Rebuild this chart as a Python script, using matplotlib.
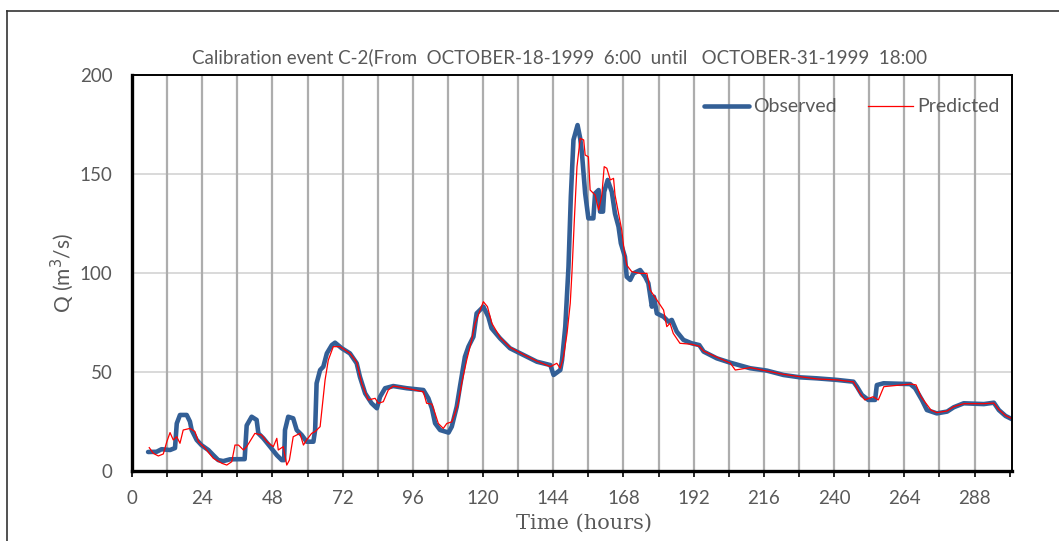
import matplotlib
matplotlib.use("Agg")
import matplotlib.pyplot as plt
from matplotlib.lines import Line2D
from matplotlib.ticker import MultipleLocator

# ---------------- data ----------------
title = "Calibration event C-2(From  OCTOBER-18-1999  6:00  until   OCTOBER-31-1999  18:00"
x_label = "Time (hours)"
y_label = "Q (m$^3$/s)"

t_obs = [5.5, 8.4, 10.1, 13.0, 14.7, 15.3, 16.4, 18.7, 19.8, 20.4, 22.1, 23.8, 26.1, 27.8,
         29.5, 31.2, 33.5, 36.9, 38.5, 39.2, 40.9, 42.6, 43.2, 44.9, 47.2, 49.5, 51.2, 52.0,
         52.3, 53.4, 55.1, 56.3, 58.0, 59.7, 62.0, 62.6, 63.1, 64.3, 65.4, 66.6, 68.3, 69.4,
         71.7, 74.5, 76.8, 77.9, 79.7, 81.9, 83.7, 84.8, 86.5, 89.3, 93.9, 99.6, 101.3, 102.5,
         103.6, 105.3, 108.2, 109.3, 111.0, 112.1, 113.8, 115.0, 116.7, 117.8, 120.1, 121.8,
         122.9, 125.8, 129.2, 133.8, 138.4, 143.0, 144.1, 146.4, 147.0, 148.1, 149.2, 150.0,
         150.9, 152.3, 153.2, 153.8, 154.9, 156.0, 157.7, 158.3, 159.5, 160.0, 161.0, 161.4,
         162.6, 164.0, 165.1, 166.3, 167.1, 168.5, 169.1, 170.3, 171.4, 173.7, 175.4, 176.5,
         177.7, 178.4, 179.4, 181.7, 183.4, 184.5, 186.2, 188.5, 191.3, 193.9, 195.4, 199.9,
         204.5, 211.3, 217.0, 222.7, 228.4, 234.1, 241.0, 246.6, 247.8, 249.5, 251.7, 254.0,
         254.6, 256.9, 266.0, 267.7, 270.0, 271.7, 275.1, 278.6, 280.9, 284.3, 291.2, 294.6,
         296.3, 298.6, 300.9]
q_obs = [9.6, 9.7, 11.0, 10.6, 11.6, 24.0, 28.3, 28.3, 25.0, 20.7, 15.7, 13.0, 10.6, 8.0,
         5.5, 5.0, 5.9, 6.0, 6.0, 23.0, 27.4, 25.8, 19.0, 16.5, 12.3, 8.0, 5.5, 5.5,
         20.7, 27.4, 26.6, 20.7, 18.2, 14.8, 14.8, 20.7, 44.3, 51.0, 52.7, 59.4, 63.6, 64.8,
         62.0, 59.4, 54.4, 47.6, 39.2, 34.2, 31.7, 37.5, 41.8, 42.9, 41.8, 40.9, 36.7, 31.7,
         24.1, 20.7, 19.4, 22.4, 32.5, 42.6, 57.7, 62.8, 67.8, 79.6, 83.0, 77.9,
         72.1, 67.0, 62.0, 58.6, 55.2, 53.5, 48.5, 51.0, 56.0, 72.9, 103.0, 138.5,
         167.2, 174.7, 168.0, 160.5, 140.2, 127.6, 127.6, 140.2, 141.9, 131.0, 131.0, 141.0,
         147.0, 141.0, 130.0, 123.4, 115.0, 108.2, 98.1, 96.5, 99.8, 101.5, 98.1, 94.8,
         83.0, 88.0, 79.6, 77.9, 75.4, 76.3, 70.4, 66.2, 64.5, 63.6, 60.3, 56.9,
         54.7, 51.9, 50.7, 48.5, 47.3, 46.8, 46.0, 45.1, 42.6, 38.4, 35.9, 35.9,
         43.4, 44.3, 43.9, 41.8, 35.9, 30.8, 29.1, 30.0, 32.2, 34.2, 33.8, 34.5,
         30.8, 27.8, 26.1]

t_pred = [5.9, 7.3, 9.0, 10.7, 11.9, 13.0, 14.1, 15.3, 16.4, 17.5, 19.8, 21.5, 22.7, 25.0,
          27.8, 30.7, 32.4, 34.1, 35.2, 36.4, 38.1, 39.2, 42.0, 44.3, 46.1, 48.3, 49.5, 50.0,
          51.7, 52.9, 53.8, 55.1, 57.4, 58.6, 59.7, 61.4, 62.6, 64.3, 66.0, 67.1, 68.8, 71.1,
          74.5, 76.8, 78.5, 80.8, 83.1, 84.2, 85.9, 87.6, 89.3, 93.9, 99.6, 100.7, 102.5, 103.6,
          104.7, 106.4, 107.6, 109.3, 110.4, 111.5, 112.7, 114.4, 116.1, 117.3, 119.0, 120.1,
          121.5, 123.0, 125.8, 129.2, 133.8, 138.4, 143.0, 145.2, 146.4, 147.5, 148.7, 149.8,
          150.4, 151.2, 152.1, 153.2, 154.4, 154.9, 156.0, 156.6, 158.3, 159.5, 160.6, 161.4,
          162.3, 163.5, 164.6, 165.1, 166.3, 167.4, 168.2, 169.1, 170.8, 173.7, 176.0, 177.1,
          179.4, 181.7, 182.8, 183.9, 185.0, 187.3, 191.3, 193.9, 195.4, 199.9, 204.5, 206.2,
          211.3, 217.0, 222.7, 228.4, 234.1, 241.0, 246.6, 248.5, 250.5, 253.3, 255.1, 257.0,
          266.0, 268.0, 269.7, 273.1, 275.1, 278.6, 280.9, 284.3, 291.2, 294.6, 296.3, 298.6,
          300.9]
q_pred = [11.8, 8.9, 7.6, 8.6, 14.8, 19.4, 15.7, 17.3, 14.0, 20.7, 21.5, 19.9, 14.8, 11.5,
          6.4, 3.9, 3.0, 4.7, 13.1, 13.1, 10.6, 12.3, 19.0, 18.2, 14.8, 12.3, 16.5, 10.6,
          12.3, 3.0, 5.5, 17.3, 19.0, 13.1, 15.7, 19.0, 19.9, 22.4, 46.0, 56.0, 62.8, 62.8,
          59.4, 55.0, 44.3, 35.9, 36.7, 34.2, 35.0, 40.9, 42.9, 41.8, 40.0, 34.2, 33.8, 29.1,
          24.0, 21.5, 24.0, 24.8, 29.1, 34.2, 44.3, 56.0, 66.2, 74.6, 81.3, 85.5,
          83.0, 74.6, 67.5, 62.5, 58.8, 55.5, 52.7, 54.4, 51.9, 57.7, 69.5, 84.7,
          100.7, 126.8, 153.7, 168.0, 167.2, 159.6, 158.7, 141.9, 139.4, 131.8, 139.4, 153.7,
          152.9, 147.0, 147.8, 139.4, 130.1, 121.7, 111.6, 104.0, 100.7, 99.8, 99.8, 91.4,
          86.4, 81.3, 72.9, 74.6, 69.5, 64.5, 64.0, 63.0, 60.5, 57.5, 54.5, 51.0,
          52.2, 50.5, 48.8, 47.6, 46.5, 46.0, 45.0, 40.0, 35.9, 37.5, 35.9, 42.6,
          43.9, 43.5, 37.5, 30.8, 29.5, 30.3, 32.5, 34.0, 34.0, 34.3, 31.0, 28.0,
          26.3]

x_major = list(range(0, 289, 24))
y_major = [0, 50, 100, 150, 200]

# ---------------- figure ----------------
fig = plt.figure(figsize=(10.59, 5.41), dpi=100)
ax = fig.add_axes([132 / 1059, 70 / 541, 880 / 1059, 396 / 541])

tick_color = "#595959"
sans = ["Lato", "DejaVu Sans"]

ax.plot(t_obs, q_obs, color="#335F96", lw=3.3, solid_joinstyle="round",
        solid_capstyle="round", label="Observed", zorder=3)
ax.plot(t_pred, q_pred, color="#FF0000", lw=0.9, label="Predicted", zorder=4)

ax.set_xlim(0, 300.8)
ax.set_ylim(0, 200)
ax.set_xticks(x_major)
ax.xaxis.set_minor_locator(MultipleLocator(12))
ax.set_yticks(y_major)

ax.grid(False)
for xv in range(12, 300, 12):
    ax.axvline(xv, color="#ADADAD", lw=1.6, zorder=1)
for yv in [50, 100, 150]:
    ax.axhline(yv, color="#D9D9D9", lw=1.4, zorder=0.5)

for s in ["left", "bottom"]:
    ax.spines[s].set_linewidth(2.4)
for s in ["top", "right"]:
    ax.spines[s].set_linewidth(1.4)
for s in ax.spines.values():
    s.set_color("black")
    s.set_zorder(5)

ax.tick_params(axis="x", which="both", direction="out", length=4, width=1.2,
               color="black", labelcolor=tick_color, labelsize=13.5, pad=10)
ax.tick_params(axis="y", which="both", length=0, labelcolor=tick_color,
               labelsize=13.5, pad=14)
for lab in ax.get_xticklabels() + ax.get_yticklabels():
    lab.set_family(sans)

ax.set_xlabel(x_label, family=["DejaVu Serif"], fontsize=15, color=tick_color)
ax.xaxis.set_label_coords((584 - 132) / 880, -(523 - 471) / 396)
ax.xaxis.label.set_va("center")
ax.set_ylabel(y_label, family=sans, fontsize=15, color=tick_color)
ax.yaxis.set_label_coords(-(132 - 62) / 880, 0.5)
ax.yaxis.label.set_va("center")

fig.text(560 / 1059, 1 - 57 / 541, title, ha="center", va="center",
         family=sans, fontsize=13.5, color=tick_color)

leg = ax.legend(loc="upper right", bbox_to_anchor=(1.013, 1.0), ncol=2, frameon=False,
                prop={"family": sans, "size": 14}, labelcolor=tick_color,
                handlelength=2.3, columnspacing=1.6, handletextpad=0.25,
                borderaxespad=0.8)

# figure border (top and left lines)
fig.add_artist(Line2D([7 / 1059, 1.0], [1 - 11 / 541, 1 - 11 / 541], color="#333333",
                      lw=1.2, transform=fig.transFigure))
fig.add_artist(Line2D([7 / 1059, 7 / 1059], [0, 1 - 11 / 541], color="#333333",
                      lw=1.2, transform=fig.transFigure))

fig.savefig("out.png", dpi=100)
